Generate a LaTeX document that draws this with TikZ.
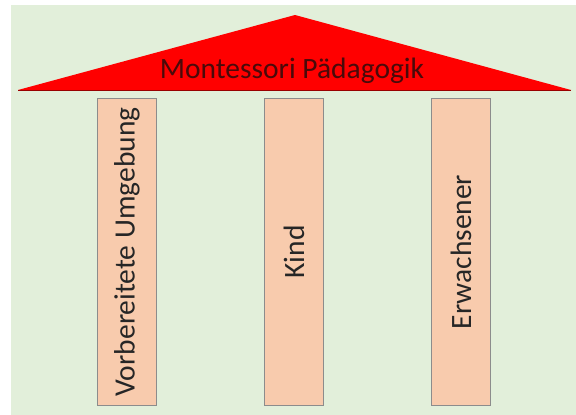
\documentclass[tikz,border=0pt]{standalone}
\usepackage{fontspec}
\setmainfont{Carlito}
\definecolor{wiese}{HTML}{E2EFDA}
\definecolor{pfirsich}{HTML}{F8CBAD}
\definecolor{dach}{HTML}{FF0000}
\definecolor{dunkelrot}{HTML}{4A0A0A}
\tikzset{
  saeule/.style={draw=gray!90, fill=pfirsich, rotate=90,
    minimum width=307pt, minimum height=59pt, inner sep=0pt,
    font=\fontsize{29.5}{31}\selectfont, text=black!85},
}

\begin{document}
\begin{tikzpicture}[x=1pt,y=-1pt]
    \useasboundingbox (0,0) rectangle (576,415);
    \fill[wiese] (11,5) rectangle (576,415);
    % das Dach
    \coordinate (links) at (18,90);
    \coordinate (rechts) at (571,90);
    \coordinate (spitze) at (295,15);
    \fill[dach] (links) -- (spitze) -- (rechts) -- cycle;
    \draw[dach!60!black, thin] (links) -- (rechts);
    \node[text=dunkelrot, font=\fontsize{29.5}{31}\selectfont] (titel) at (292,71)
        {Montessori Pädagogik};
    % die Saeulen
    \node[saeule] (umgebung) at (127,252) {Vorbereitete Umgebung};
    \node[saeule] (kind) at (294,252) {Kind};
    \node[saeule] (erwachsener) at (461,252) {Erwachsener};
\end{tikzpicture}
\end{document}
